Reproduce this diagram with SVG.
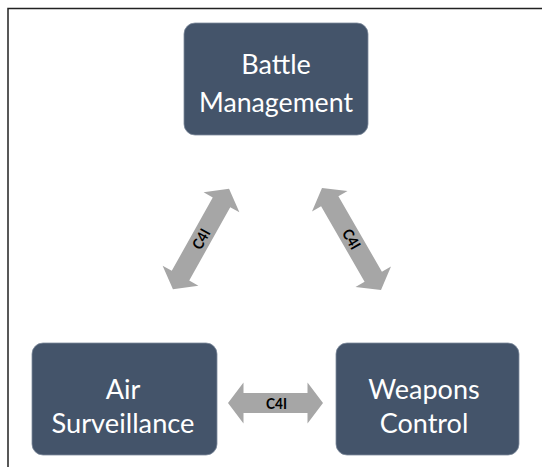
<svg xmlns="http://www.w3.org/2000/svg" width="542" height="467" viewBox="0 0 542 467">
<style>
.box{fill:#44546A;stroke:#7d8a9c;stroke-width:0.8}
.t{font-family:Lato,"Open Sans",sans-serif;font-size:27px;fill:#ffffff;text-anchor:middle}
.arr{fill:#A6A6A6}
.lbl{font-family:Lato,"Liberation Sans",sans-serif;font-size:15px;font-weight:bold;fill:#000;text-anchor:middle}
</style>
<rect width="542" height="467" fill="#ffffff"/>
<path d="M8 467 V8.5 H542" fill="none" stroke="#222" stroke-width="1.5"/>
<g id="connectors">
<g transform="translate(201,239) rotate(-60.8)">
<polygon class="arr" points="-57.5,0 -42,-20.5 -42,-10 42,-10 42,-20.5 57.5,0 42,20.5 42,10 -42,10 -42,20.5"/>
<text class="lbl" x="0" y="5.5" textLength="21" lengthAdjust="spacingAndGlyphs">C4I</text>
</g>
<g transform="translate(351.5,239) rotate(60)">
<polygon class="arr" points="-59,0 -43.5,-20.5 -43.5,-10 43.5,-10 43.5,-20.5 59,0 43.5,20.5 43.5,10 -43.5,10 -43.5,20.5"/>
<text class="lbl" x="0" y="5.5" textLength="21" lengthAdjust="spacingAndGlyphs">C4I</text>
</g>
<g transform="translate(275.5,403)">
<polygon class="arr" points="-47.5,0 -32,-20.5 -32,-10 32,-10 32,-20.5 47.5,0 32,20.5 32,10 -32,10 -32,20.5"/>
<text class="lbl" x="1" y="5.5" textLength="21" lengthAdjust="spacingAndGlyphs">C4I</text>
</g>
</g>
<g id="battle">
<rect class="box" x="184" y="23" width="184" height="112" rx="11"/>
<text class="t" x="276" y="73.5">Battle</text>
<text class="t" x="276" y="111.5" textLength="154" lengthAdjust="spacingAndGlyphs">Management</text>
</g>
<g id="air">
<rect class="box" x="32" y="343" width="185" height="112" rx="11"/>
<text class="t" x="123" y="399">Air</text>
<text class="t" x="123" y="432.5" textLength="143" lengthAdjust="spacingAndGlyphs">Surveillance</text>
</g>
<g id="weapons">
<rect class="box" x="336" y="343" width="183" height="112" rx="11"/>
<text class="t" x="424" y="399">Weapons</text>
<text class="t" x="424" y="432.5">Control</text>
</g>
</svg>
